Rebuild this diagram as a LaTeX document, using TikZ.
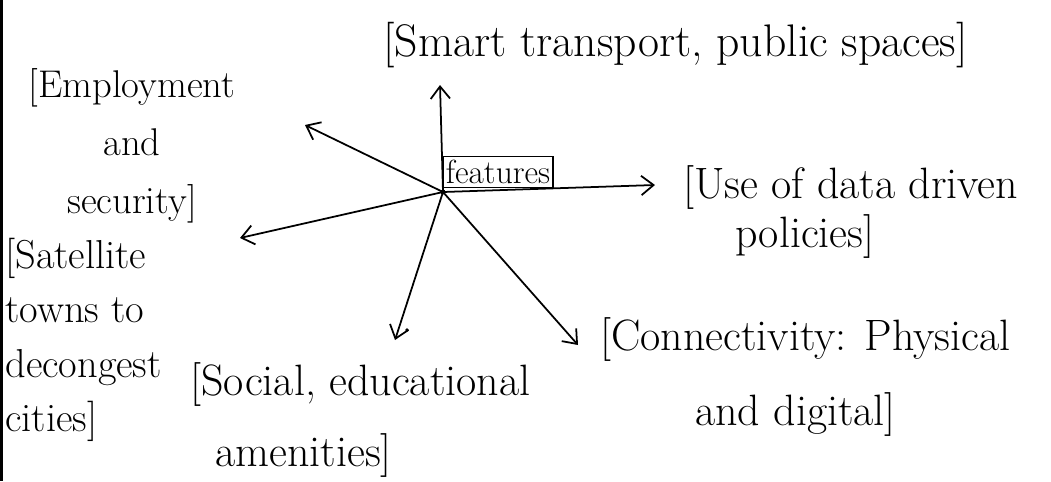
\documentclass[tikz,border=0pt]{standalone}
\usetikzlibrary{arrows.meta}
\begin{document}
\begin{tikzpicture}[x=0.02cm,y=-0.02cm,
  lbl/.style={font=\fontsize{25}{30}\selectfont, align=left, inner sep=0pt, anchor=west},
  arr/.style={line width=1pt, -{Straight Barb[length=7pt,width=11pt]}},
  featbox/.style={draw, line width=1pt, inner sep=1pt, minimum width=2.2cm, minimum height=0.62cm}]
\useasboundingbox (0,0) rectangle (1051,481);
\fill (0,0) rectangle (3,481);
% labels
\node[lbl, font=\fontsize{26}{30}\selectfont] (smart) at (383,45) {[Smart transport, public spaces]};
\node[lbl, align=center, anchor=center, font=\fontsize{22}{33}\selectfont] (emp) at (132,146) {[Employment\\and\\security]};
\node[lbl, font=\fontsize{25}{28}\selectfont] (data) at (683,212) {[Use of data driven\\\hspace*{1.04cm}policies]};
\node[lbl, font=\fontsize{23}{31}\selectfont] (sat) at (5,340) {[Satellite\\towns to\\decongest\\cities]};
\node[lbl, font=\fontsize{25}{40}\selectfont] (soc) at (190,420) {[Social, educational\\\hspace*{0.5cm}amenities]};
\node[lbl, font=\fontsize{25}{43}\selectfont] (conn) at (600,377) {[Connectivity: Physical\\\hspace*{1.9cm}and digital]};
% centre
\coordinate (c) at (443,192);
\node[featbox] (feat) at (498,172) {\fontsize{19}{20}\selectfont features};
% arrow tips
\coordinate (tUp) at (440,85);
\coordinate (tUL) at (305,125);
\coordinate (tR) at (655,185);
\coordinate (tL) at (240,238);
\coordinate (tDL) at (395,340);
\coordinate (tDR) at (578,345);
\draw[arr] (c) -- (tUp);
\draw[arr] (c) -- (tUL);
\draw[arr] (c) -- (tR);
\draw[arr] (c) -- (tL);
\draw[arr] (c) -- (tDL);
\draw[arr] (c) -- (tDR);
\fill (c) circle (2.5);
\fill (407,330) circle (1.8);
\end{tikzpicture}
\end{document}
